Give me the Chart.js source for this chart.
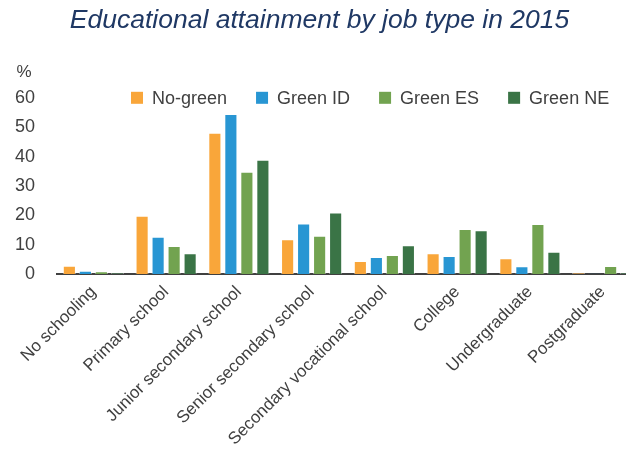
<!DOCTYPE html>
<html>
<head>
<meta charset="utf-8">
<script src="https://cdn.jsdelivr.net/npm/chart.js@4.4.1/dist/chart.umd.min.js"></script>
<style>
  html, body { margin: 0; padding: 0; background: #fff; overflow: hidden; }
  #wrap { width: 642px; height: 468px; }
</style>
</head>
<body>
<div id="wrap"><canvas id="eduChart"></canvas></div>
<script>
// Dữ liệu
const categories = ['No schooling', 'Primary school', 'Junior secondary school', 'Senior secondary school',
  'Secondary vocational school', 'College', 'Undergraduate', 'Postgraduate'];
const noGreen = [2.8, 19.8, 48.1, 11.8, 4.4, 7.1, 5.4, 0.3];
const greenID = [1.1, 12.7, 54.5, 17.2, 5.8, 6.1, 2.6, 0.1];
const greenES = [0.9, 9.5, 34.8, 13.0, 6.5, 15.3, 17.0, 2.7];
const greenNE = [0.4, 7.1, 38.9, 20.9, 9.8, 14.9, 7.6, 0.4];
const yTicks = [0, 10, 20, 30, 40, 50, 60];

const textColor = '#404040';
const font = "'Liberation Sans', Arial, sans-serif";

function makeSet(label, data, color) {
  return {
    label: label,
    data: data,
    backgroundColor: color,
    borderColor: 'rgba(255,255,255,0.45)',
    borderWidth: 1,
    barPercentage: 0.82,
    categoryPercentage: 0.88
  };
}

// Vẽ ký hiệu "%" phía trên trục y
const percentLabel = {
  id: 'percentLabel',
  afterDraw(chart) {
    const y = chart.scales.y;
    const ctx = chart.ctx;
    ctx.save();
    ctx.font = '17px ' + font;
    ctx.fillStyle = textColor;
    ctx.textAlign = 'center';
    ctx.textBaseline = 'middle';
    ctx.fillText('%', 24, y.top - 25);
    ctx.restore();
  }
};

// Chú thích nằm trong vùng biểu đồ, ngang hàng với vạch 60
const inlineLegend = {
  id: 'inlineLegend',
  afterDraw(chart) {
    const ctx = chart.ctx;
    const area = chart.chartArea;
    let x = area.left + 74;
    const y = area.top;
    ctx.save();
    ctx.font = '18px ' + font;
    ctx.textBaseline = 'middle';
    ctx.textAlign = 'left';
    chart.data.datasets.forEach(ds => {
      ctx.fillStyle = ds.backgroundColor;
      ctx.fillRect(x, y - 6, 12, 12);
      x += 21;
      ctx.fillStyle = textColor;
      ctx.fillText(ds.label, x, y + 1);
      x += ctx.measureText(ds.label).width + 29;
    });
    ctx.restore();
  }
};

new Chart(document.getElementById('eduChart'), {
  type: 'bar',
  data: {
    labels: categories,
    datasets: [
      makeSet('No-green', noGreen, '#F9A63A'),
      makeSet('Green ID', greenID, '#2896D3'),
      makeSet('Green ES', greenES, '#72A350'),
      makeSet('Green NE', greenNE, '#3A7446')
    ]
  },
  options: {
    responsive: true,
    maintainAspectRatio: false,
    animation: false,
    layout: { padding: { left: 0, right: 3, top: 0, bottom: 0 } },
    plugins: {
      title: {
        display: true,
        text: 'Educational attainment by job type in 2015',
        color: '#1F3864',
        font: { family: font, size: 26.5, style: 'italic', weight: 'normal' },
        padding: { top: 5, bottom: 61 }
      },
      legend: { display: false },
      tooltip: { enabled: false }
    },
    scales: {
      x: {
        grid: { display: false, drawTicks: false },
        border: { display: true, color: '#404040', width: 2 },
        ticks: {
          color: textColor,
          font: { family: font, size: 17 },
          maxRotation: 45,
          minRotation: 45,
          padding: 8
        },
        afterFit: (scale) => { scale.height = 194; }
      },
      y: {
        min: 0,
        max: 60,
        grid: { display: false, drawTicks: false },
        border: { display: false },
        afterBuildTicks: (scale) => { scale.ticks = yTicks.map(v => ({ value: v })); },
        ticks: {
          color: textColor,
          font: { family: font, size: 18 },
          padding: 22
        },
        afterFit: (scale) => { scale.width = 57; }
      }
    }
  },
  plugins: [percentLabel, inlineLegend]
});
</script>
</body>
</html>
